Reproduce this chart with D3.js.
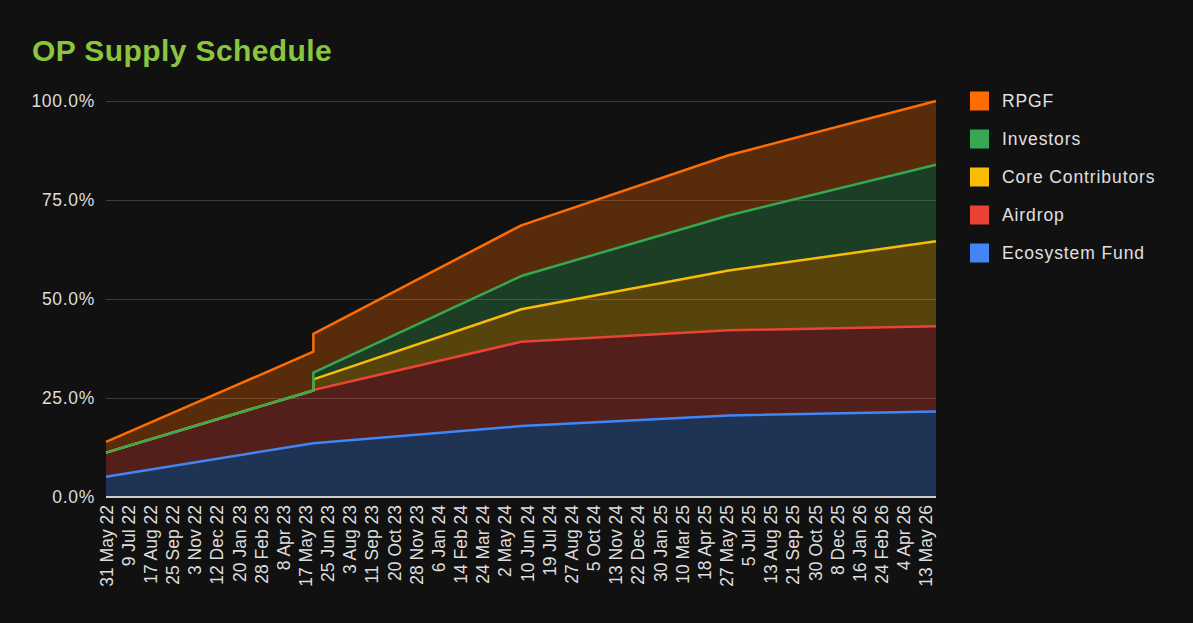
<!DOCTYPE html>
<html>
<head>
<meta charset="utf-8">
<script src="https://cdn.jsdelivr.net/npm/d3@7"></script>
<style>
  html, body { margin: 0; padding: 0; background: #111111; }
  svg { display: block; font-family: Arial, 'Liberation Sans', sans-serif; }
</style>
</head>
<body>
<div id="root"></div>
<script>
// data points (one-year cliff on 31 May 23 appears as a doubled date)
var dates = ['2022-05-31', '2023-05-31', '2023-05-31', '2024-05-31', '2025-05-31', '2026-05-31'];
var ecosystemFund = [5.1, 13.6, 13.6, 17.9, 20.6, 21.6];
var airdrop = [6.1, 13.3, 13.4, 21.3, 21.5, 21.5];
var coreContributors = [0, 0, 2.7, 8.2, 15.1, 21.5];
var investors = [0, 0, 1.7, 8.4, 13.9, 19.3];
var rpgf = [2.7, 9.8, 9.8, 12.8, 15.2, 16.1];

var seriesNames = ['Ecosystem Fund', 'Airdrop', 'Core Contributors', 'Investors', 'RPGF'];
var seriesColours = ['#4285f4', '#ea4335', '#fbbc04', '#34a853', '#ff6d01'];

var xTickLabels = ['31 May 22', '9 Jul 22', '17 Aug 22', '25 Sep 22', '3 Nov 22', '12 Dec 22',
  '20 Jan 23', '28 Feb 23', '8 Apr 23', '17 May 23', '25 Jun 23', '3 Aug 23', '11 Sep 23',
  '20 Oct 23', '28 Nov 23', '6 Jan 24', '14 Feb 24', '24 Mar 24', '2 May 24', '10 Jun 24',
  '19 Jul 24', '27 Aug 24', '5 Oct 24', '13 Nov 24', '22 Dec 24', '30 Jan 25', '10 Mar 25',
  '18 Apr 25', '27 May 25', '5 Jul 25', '13 Aug 25', '21 Sep 25', '30 Oct 25', '8 Dec 25',
  '16 Jan 26', '24 Feb 26', '4 Apr 26', '13 May 26'];
var yTicks = [0, 25, 50, 75, 100];

var w = 1193,
    h = 623;

var parseDate = d3.timeParse('%Y-%m-%d'),
    parseLabel = d3.timeParse('%d %b %y');

var rows = dates.map(function (d, i) {
  return {
    date: parseDate(d),
    'Ecosystem Fund': ecosystemFund[i],
    'Airdrop': airdrop[i],
    'Core Contributors': coreContributors[i],
    'Investors': investors[i],
    'RPGF': rpgf[i]
  };
});

var layers = d3.stack().keys(seriesNames)(rows);

var x = d3.scaleTime()
  .domain([parseDate('2022-05-31'), parseDate('2026-05-31')])
  .range([106, 936]);

var y = d3.scaleLinear()
  .domain([0, 100])
  .range([497, 101]);

var svg = d3.select('#root')
  .append('svg')
    .attr('width', w)
    .attr('height', h);

svg.append('rect')
    .attr('width', w)
    .attr('height', h)
    .attr('fill', '#111111');

svg.append('text')
    .attr('x', 32)
    .attr('y', 61)
    .attr('font-size', 30)
    .attr('font-weight', 'bold')
    .attr('letter-spacing', 0.4)
    .attr('fill', '#8bc53f')
    .text('OP Supply Schedule');

// gridlines + y labels
var yAxis = svg.append('g')
    .attr('transform', 'translate(106,0)')
    .call(d3.axisLeft(y)
      .tickValues(yTicks)
      .tickSize(-830)
      .tickPadding(11)
      .tickFormat(function (d) { return d.toFixed(1) + '%'; }));

yAxis.select('.domain').remove();
yAxis.selectAll('.tick line')
    .attr('stroke', '#3c3c3c')
    .attr('stroke-width', 1);
yAxis.selectAll('.tick text')
    .attr('fill', '#dddddd')
    .attr('font-size', 17.5)
    .attr('letter-spacing', 0.7);

var area = d3.area()
  .x(function (d) { return x(d.data.date); })
  .y0(function (d) { return y(d[0]); })
  .y1(function (d) { return y(d[1]); });

var line = d3.line()
  .x(function (d) { return x(d.data.date); })
  .y(function (d) { return y(d[1]); });

svg.selectAll('.layer')
    .data(layers)
  .enter().append('path')
    .attr('class', 'layer')
    .attr('d', area)
    .attr('fill', function (d, i) { return seriesColours[i]; })
    .attr('fill-opacity', 0.3);

svg.selectAll('.series-line')
    .data(layers)
  .enter().append('path')
    .attr('class', 'series-line')
    .attr('d', line)
    .attr('fill', 'none')
    .attr('stroke', function (d, i) { return seriesColours[i]; })
    .attr('stroke-width', 2.5)
    .attr('stroke-linejoin', 'round');

// baseline
svg.append('line')
    .attr('x1', 106)
    .attr('x2', 936)
    .attr('y1', y(0))
    .attr('y2', y(0))
    .attr('stroke', '#cccccc')
    .attr('stroke-width', 2);

// x labels
var xAxis = svg.append('g')
    .attr('transform', 'translate(0,' + (y(0) + 1) + ')')
    .call(d3.axisBottom(x)
      .tickValues(xTickLabels.map(parseLabel))
      .tickSize(0)
      .tickFormat(function (d, i) { return xTickLabels[i]; }));

xAxis.select('.domain').remove();
xAxis.selectAll('.tick text')
    .attr('fill', '#dddddd')
    .attr('font-size', 17.5)
    .attr('text-anchor', 'end')
    .attr('transform', 'rotate(-90)')
    .attr('x', -7)
    .attr('y', 0)
    .attr('dy', '0.35em');

// legend, top to bottom
var legendOrder = seriesNames.slice().reverse();
var legend = svg.selectAll('.legend')
    .data(legendOrder)
  .enter().append('g')
    .attr('class', 'legend')
    .attr('transform', function (d, i) {
      return 'translate(970,' + (101 + i * 38) + ')';
    });

legend.append('rect')
    .attr('x', 0)
    .attr('y', -9.5)
    .attr('width', 19)
    .attr('height', 19)
    .attr('fill', function (d) {
      return seriesColours[seriesNames.indexOf(d)];
    });

legend.append('text')
    .attr('x', 32)
    .attr('dy', '0.35em')
    .attr('font-size', 17.5)
    .attr('letter-spacing', 0.9)
    .attr('fill', '#e0e0e0')
    .text(function (d) { return d; });
</script>
</body>
</html>
